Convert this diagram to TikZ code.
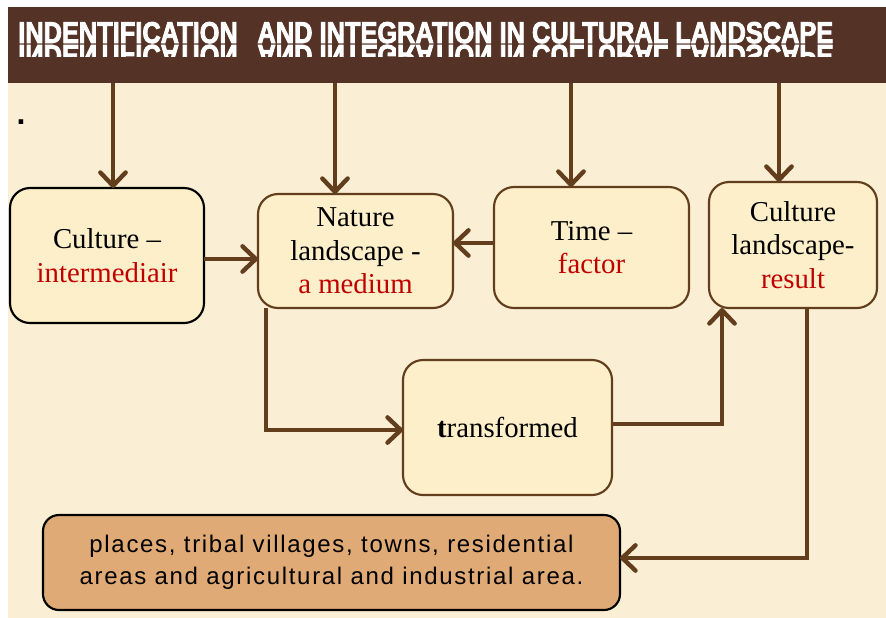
\documentclass[tikz,border=0pt]{standalone}
\usepackage{fontspec}
\setmainfont{Liberation Serif}
\newfontfamily\sansf{Liberation Sans}
\newfontfamily\bodysans[LetterSpace=7]{Liberation Sans}
\newfontfamily\titlef[BoldFeatures={FakeBold=3}]{Liberation Sans}
\usetikzlibrary{arrows.meta}
\definecolor{bandbrown}{RGB}{84,50,38}
\definecolor{paper}{RGB}{250,239,213}
\definecolor{boxfill}{RGB}{253,239,202}
\definecolor{linebrown}{RGB}{99,62,28}
\definecolor{tanfill}{RGB}{224,170,118}
\definecolor{accent}{RGB}{192,0,0}
\newcommand{\titletext}{\titlef\bfseries INDENTIFICATION\hspace{0.5em}\ AND INTEGRATION IN CULTURAL LANDSCAPE}
\begin{document}
\begin{tikzpicture}[x=0.75pt,y=-0.75pt,
  stage/.style={draw=linebrown, line width=1.6pt, fill=boxfill, rounded corners=15pt,
    inner sep=0pt, outer sep=0pt, align=center, font=\fontsize{21.6}{25}\selectfont},
  conn/.style={draw=linebrown, line width=3.3pt,
    -{Straight Barb[length=10pt,width=19pt,round]}}]

\useasboundingbox (0,0) rectangle (886,618);
\fill[white] (0,0) rectangle (886,618);
\fill[paper] (8,83) rectangle (886,618);

% header band with its title and the title's reflection
\node[fill=bandbrown, minimum width=658.5pt, minimum height=57pt, inner sep=0pt, outer sep=0pt]
  (band) at (447,45) {};
\node[anchor=base west, inner sep=0pt, text=white] (title) at (18,43)
  {\resizebox{611.25pt}{15.75pt}{\titletext}};
\begin{scope}
  \clip (10,44.5) rectangle (860,56);
  \node[anchor=north west, inner sep=0pt, text=white] (mirror) at (18,44.5)
    {\scalebox{1}[-1]{\resizebox{611.25pt}{15.75pt}{\titletext}}};
\end{scope}

\node[anchor=base, inner sep=0pt] (dot) at (21,124) {\sansf\bfseries\fontsize{24}{24}\selectfont .};

% stages
\node[stage, draw=black, minimum width=145.5pt, minimum height=101.25pt] (cult) at (107,255.5)
  {Culture –\\\textcolor{accent}{intermediair}};
\node[stage, minimum width=146.25pt, minimum height=85.5pt] (nat) at (355.5,251)
  {Nature\\landscape -\\\textcolor{accent}{a medium}};
\node[stage, minimum width=146.25pt, minimum height=90.75pt] (time) at (591.5,247.5)
  {Time –\\\textcolor{accent}{factor}};
\node[stage, minimum width=126pt, minimum height=94.5pt] (cl) at (793,245)
  {Culture\\landscape-\\\textcolor{accent}{result}};
\node[stage, minimum width=156.75pt, minimum height=101.25pt] (trans) at (507.5,427.5)
  {\textbf{t}ransformed};
\node[stage, draw=black, fill=tanfill, rounded corners=12pt, minimum width=432.75pt,
  minimum height=71.25pt, font=\bodysans\fontsize{18}{24}\selectfont] (bot) at (331.5,562.5)
  {places, tribal villages, towns, residential\\areas and agricultural and industrial area.};

% arrows from the header
\coordinate (p1) at ([xshift=4.5pt]cult.north);
\coordinate (p2) at ([xshift=-15.4pt]nat.north);
\coordinate (p3) at ([xshift=-15.4pt]time.north);
\coordinate (p4) at ([xshift=-10.5pt]cl.north);
\foreach \p in {p1,p2,p3,p4} \draw[conn] (\p |- band.south) -- (\p);

% flow between the stages
\draw[conn] ([yshift=-2.6pt]cult.east) -- ([yshift=-2.6pt]cult.east -| nat.west);
\draw[conn] ([yshift=3.4pt]time.west) -- ([yshift=3.4pt]time.west -| nat.east);
\draw[conn] ([xshift=6pt]nat.south west) |- ([yshift=-1.9pt]trans.west);
\draw[conn] ([yshift=2.6pt]trans.east) -| ([xshift=9.75pt]cl.south west);
\draw[conn] ([xshift=10.5pt]cl.south) |- ([yshift=3.4pt]bot.east);
\end{tikzpicture}
\end{document}
